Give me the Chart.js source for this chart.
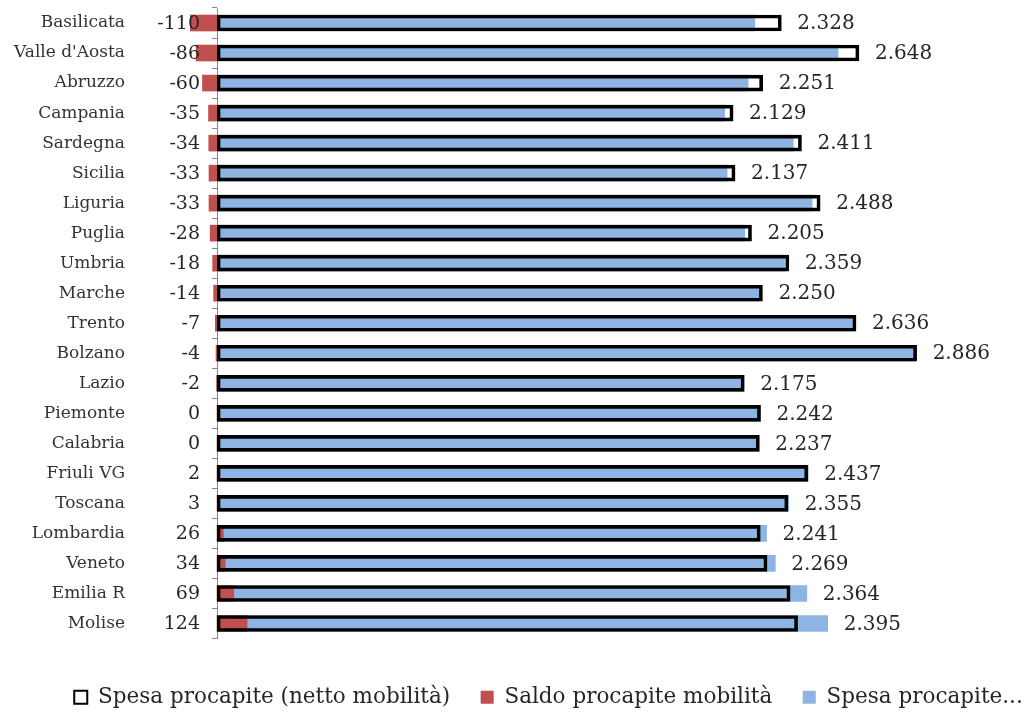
<!DOCTYPE html>
<html>
<head>
<meta charset="utf-8">
<script src="https://cdn.jsdelivr.net/npm/chart.js@4/dist/chart.umd.min.js"></script>
<style>
  body { margin: 0; background: #fff; }
</style>
</head>
<body>
<canvas id="spesaChart" width="1033" height="712"></canvas>
<script>
const regioni = ["Basilicata", "Valle d'Aosta", "Abruzzo", "Campania", "Sardegna", "Sicilia", "Liguria", "Puglia", "Umbria", "Marche", "Trento", "Bolzano", "Lazio", "Piemonte", "Calabria", "Friuli VG", "Toscana", "Lombardia", "Veneto", "Emilia R", "Molise"]
const spesaNetta = [2328, 2648, 2251, 2129, 2411, 2137, 2488, 2205, 2359, 2250, 2636, 2886, 2175, 2242, 2237, 2437, 2355, 2241, 2269, 2364, 2395]
const saldoMobilita = [-110, -86, -60, -35, -34, -33, -33, -28, -18, -14, -7, -4, -2, 0, 0, 2, 3, 26, 34, 69, 124]
const spesaTotale = [2218, 2562, 2191, 2094, 2377, 2104, 2455, 2177, 2341, 2236, 2629, 2882, 2173, 2242, 2237, 2439, 2358, 2267, 2303, 2433, 2519]

const FONT = "'DejaVu Serif', serif"
const TEXT = "#262626"

// 2328 -> "2.328"
function migliaia(v) {
  const n = Math.abs(v)
  const s = n >= 1000 ? Math.floor(n / 1000) + "." + String(n % 1000).padStart(3, "0") : String(n)
  return (v < 0 ? "-" : "") + s
}

// etichette: valore netto a destra, saldo a sinistra dell'asse
const etichette = {
  id: "etichette",
  afterLayout(chart) {
    // legenda un po' più in basso e spostata a destra come nell'originale
    const lg = chart.legend
    if (lg) {
      lg.top += 6
      lg.bottom += 6
      lg.left += 40
      lg.right += 40
    }
  },
  afterDatasetsDraw(chart) {
    const { ctx } = chart
    const x = chart.scales.x
    const y = chart.scales.y
    ctx.save()
    ctx.fillStyle = TEXT
    ctx.textBaseline = "middle"
    regioni.forEach((r, i) => {
      const yc = y.getPixelForValue(i)
      const fine = Math.max(spesaNetta[i], spesaTotale[i])
      ctx.font = "20px " + FONT
      ctx.textAlign = "left"
      ctx.fillText(migliaia(spesaNetta[i]), x.getPixelForValue(fine) + 16, yc + 1)
      ctx.font = "19px " + FONT
      ctx.textAlign = "right"
      ctx.fillText(String(saldoMobilita[i]), x.left - 17, yc + 1)
    })
    ctx.restore()
  },
}

new Chart(document.getElementById("spesaChart"), {
  type: "bar",
  data: {
    labels: regioni,
    datasets: [
      {
        label: "Spesa procapite (netto mobilità)",
        data: spesaNetta,
        backgroundColor: "rgba(0,0,0,0)",
        borderColor: "#000000",
        borderWidth: 3,
        borderSkipped: false,
        barThickness: 16,
        order: 1,
      },
      {
        label: "Saldo procapite mobilità",
        data: saldoMobilita,
        backgroundColor: "#C0504D",
        borderWidth: 0,
        barThickness: 16,
        clip: false,
        order: 2,
      },
      {
        label: "Spesa procapite...",
        data: spesaTotale,
        backgroundColor: "#8DB4E2",
        borderWidth: 0,
        barThickness: 16,
        order: 3,
      },
    ],
  },
  options: {
    indexAxis: "y",
    responsive: false,
    animation: false,
    grouped: false,
    layout: {
      padding: { top: 8, right: 16, bottom: 0, left: 0 },
    },
    scales: {
      x: {
        min: 0,
        max: 3300,
        grid: { display: false },
        border: { display: false },
        ticks: { display: false },
        afterFit: (s) => { s.height = 32 },
      },
      y: {
        grid: { display: true, drawOnChartArea: false, drawTicks: true, tickLength: 5, color: "#868686" },
        border: { display: true, color: "#868686" },
        ticks: { padding: 87, color: "#333333", font: { family: FONT, size: 17 } },
        afterFit: (s) => {
          s.width = 217
          s.paddingTop = 0
          s.paddingBottom = 0
        },
      },
    },
    plugins: {
      tooltip: { enabled: false },
      legend: {
        position: "bottom",
        labels: {
          color: TEXT,
          font: { family: FONT, size: 21.5 },
          boxWidth: 13,
          boxHeight: 13,
          padding: 10,
          generateLabels: (chart) => {
            const items = Chart.defaults.plugins.legend.labels.generateLabels(chart)
            items.forEach((it, i) => {
              it.lineWidth = it.datasetIndex === 0 ? 2 : 0
              if (i < items.length - 1) it.text += "   "
            })
            return items
          },
        },
      },
    },
  },
  plugins: [etichette],
})
</script>
</body>
</html>
